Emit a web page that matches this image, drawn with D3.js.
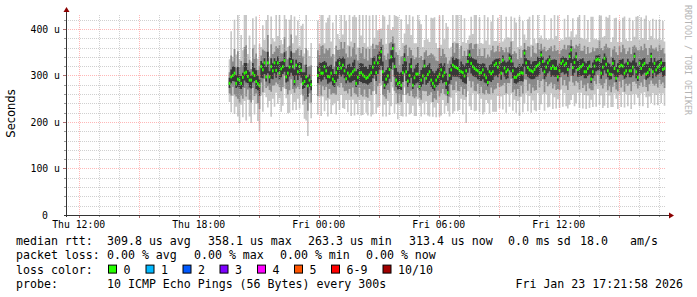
<!DOCTYPE html>
<html>
<head>
<meta charset="utf-8">
<script src="https://cdn.jsdelivr.net/npm/d3@7"></script>
<style>
  html, body { margin: 0; padding: 0; background: #fff; }
  svg { display: block; }
  text { font-family: "DejaVu Sans Mono", monospace; fill: #000; }
</style>
</head>
<body>
<svg id="chart" width="697" height="297"></svg>
<script>
// ---- data (round trip times in microseconds, one value per 5 minute step) ----
const graphStart = Date.UTC(2026, 0, 22, 11, 21, 58)
const graphEnd = Date.UTC(2026, 0, 23, 17, 21, 58)
const firstStep = Date.UTC(2026, 0, 22, 19, 35)   // end of first measured interval
const stepMs = 300000

const medianRtt = [
  283,297,300,305,283,292,290,283,296,305, 307,298,290,290,305,300,287,282,278,319,
  312,327,297,327,297,319,310,327,311,327, 305,314,319,332,297,305,318,330,319,287,
  322,308,319,311,283,287,297,278,290,280, null,null,null,300,312,305,305,319,310,298,
  297,305,292,287,306,315,326,316,322,310, 293,305,299,303,308,312,283,296,305,306,
  301,298,294,296,301,306,318,327,306,327, 338,351,308,279,292,299,313,340,358,319,
  290,282,285,279,306,334,308,288,300,319, 279,295,303,303,276,290,299,320,294,302,
  308,290,283,277,290,297,303,312,299,306, 283,263,300,312,322,319,317,315,310,308,
  306,299,310,330,344,326,319,315,312,310, 305,306,312,301,295,285,308,304,308,322,
  326,318,327,305,333,316,308,312,337,331, 310,296,296,301,303,306,305,348,327,317,
  312,310,308,313,319,322,326,344,330,308, 318,327,333,315,320,315,315,297,310,326,
  331,322,326,313,341,355,317,328,340,313, 316,319,323,308,308,315,320,292,308,320,
  333,335,333,305,318,337,324,310,303,302, 326,315,294,310,319,322,320,305,310,326,
  310,310,318,341,308,296,326,315,322,326, 303,306,313,341,308,326,312,318,322,327,
  313,315
]
// slowest ping, above the median
const spreadUp = [
  52,98,40,115,62,150,45,104,58,128, 132,48,96,40,118,66,140,54,90,42,
  96,50,122,136,44,108,70,46,120,58, 138,62,48,112,124,56,102,134,50,140,
  64,110,44,96,128,60,142,76,52,90, null,null,null,118,56,130,138,50,104,126,
  140,68,122,58,136,74,52,128,66,140, 124,60,146,70,118,130,142,64,126,80,
  136,72,148,66,128,58,112,54,138,70, 62,50,132,148,76,110,128,58,46,116,
  138,144,70,142,64,56,134,122,140,68, 148,74,66,134,142,120,62,56,136,76,
  64,134,140,148,80,62,126,54,132,72, 130,142,58,50,108,54,116,122,48,126,
  66,124,60,46,42,100,70,116,128,58, 120,64,56,134,80,140,58,112,126,52,
  48,106,44,130,40,62,118,70,44,96, 64,128,118,60,124,58,112,40,50,104,
  114,56,126,66,50,110,54,42,48,122, 62,50,46,108,58,116,70,132,64,52,
  46,100,56,118,42,40,106,54,48,112, 120,62,56,126,70,104,52,134,118,58,
  46,42,96,124,64,48,102,114,128,70, 56,108,130,62,98,50,104,122,68,48,
  114,64,100,42,118,132,50,110,58,96, 126,70,104,44,114,52,108,60,98,50,
  104,58
]
// fastest ping, below the median
const spreadDown = [
  40,76,44,88,50,80,92,46,86,60, 104,50,78,92,58,84,48,80,98,62,
  90,64,44,96,52,108,60,94,48,88, 54,92,84,60,46,86,98,70,94,44,
  96,58,90,52,46,80,94,108,50,72, null,null,null,84,58,92,50,96,64,86,
  48,88,56,46,90,70,100,58,92,82, 46,84,52,90,60,98,44,80,58,92,
  86,50,74,82,56,94,102,60,88,96, 104,72,96,42,80,54,98,106,84,100,
  52,76,48,66,94,60,96,48,84,100, 44,82,90,54,42,78,58,104,50,88,
  96,48,72,46,80,56,92,98,52,88, 48,40,88,60,104,96,54,92,84,58,
  90,52,112,64,110,100,58,92,88,50, 84,56,96,80,48,44,90,56,86,100,
  104,62,98,50,106,58,88,52,104,70, 86,48,76,56,90,52,84,108,66,94,
  56,90,62,88,96,60,100,106,70,84, 58,96,100,54,92,62,86,48,80,56,
  98,60,92,84,104,108,58,94,100,50, 86,56,94,50,80,58,90,44,76,60,
  100,64,96,48,88,102,60,80,46,70, 94,54,44,82,60,90,56,74,50,92,
  52,82,58,104,48,44,92,54,88,62, 50,76,58,100,46,90,54,82,60,86,
  52,80
]
// 2nd / 3rd slowest and fastest pings
const midUp = [
  24,46,30,52,34,60,28,48,26,56, 58,28,44,24,54,36,60,30,42,24,
  44,26,54,60,28,48,36,24,52,32, 60,34,28,50,56,30,46,58,30,62,
  32,50,24,44,58,36,62,40,30,42, null,null,null,54,32,58,60,28,48,56,
  62,36,54,32,58,40,30,56,36,62, 54,34,64,38,52,58,62,36,54,42,
  60,38,64,36,56,32,50,30,60,38, 34,28,58,64,42,48,56,32,26,50,
  60,62,38,62,36,30,58,54,60,36, 64,40,36,58,62,52,34,30,60,40,
  36,58,62,64,42,34,56,30,58,40, 56,62,32,28,48,30,52,54,26,56,
  36,54,32,26,24,44,38,52,56,32, 52,36,30,58,42,60,32,50,56,28,
  26,46,24,56,22,34,52,38,24,42, 36,56,52,34,54,32,50,22,28,46,
  50,30,56,36,28,48,30,24,26,54, 34,28,26,48,32,50,38,58,36,28,
  26,44,30,52,24,22,46,30,26,50, 52,34,30,56,38,46,28,58,52,32,
  26,24,42,54,36,26,44,50,56,38, 30,48,56,34,44,28,46,54,36,26,
  50,36,44,24,52,58,28,48,32,42, 56,38,46,24,50,30,48,34,44,28,
  46,32
]
const midDown = [
  22,40,24,46,28,42,48,26,46,32, 52,28,42,48,32,44,26,42,50,34,
  48,34,24,50,28,54,32,48,26,46, 30,48,44,32,26,46,50,38,48,24,
  50,32,48,28,26,42,48,54,28,38, null,null,null,44,32,48,28,50,34,46,
  26,46,30,26,48,38,52,32,48,44, 26,44,28,48,34,50,24,42,32,48,
  46,28,40,44,30,48,52,34,46,50, 54,40,50,24,42,30,50,54,46,52,
  28,42,26,36,48,32,50,26,44,52, 24,44,48,30,24,42,32,54,28,46,
  50,26,40,26,42,30,48,50,28,46, 26,22,46,32,54,50,30,48,44,32,
  48,28,56,34,56,52,32,48,46,28, 44,30,50,42,26,24,48,30,46,52,
  54,34,52,28,54,32,46,28,54,38, 46,26,40,30,48,28,44,56,36,50,
  30,48,34,46,50,32,52,56,38,44, 32,50,52,30,48,34,46,26,42,30,
  52,32,48,44,54,56,32,50,52,28, 46,30,50,28,42,32,48,24,40,32,
  52,34,50,26,46,54,32,42,26,38, 50,30,24,44,32,48,30,40,28,48,
  28,44,32,54,26,24,48,30,46,34, 28,40,32,52,26,48,30,44,32,46,
  28,42
]
// pings closest to the median
const coreUp = [
  12,16,20,14,18,26,12,16,10,22, 20,14,18,10,22,16,24,18,14,12,
  14,10,22,24,12,18,16,10,20,14, 24,16,12,18,22,14,20,22,16,26,
  12,18,10,16,24,20,26,18,12,10, null,null,null,20,16,22,24,12,18,22,
  24,18,22,16,24,20,14,20,18,26, 22,18,26,16,20,22,26,18,22,20,
  24,20,26,18,22,16,20,14,24,18, 14,10,22,28,20,18,22,14,10,20,
  26,26,20,28,18,14,22,22,26,18, 28,20,20,24,26,22,18,14,24,20,
  18,24,26,28,20,18,22,14,22,20, 22,26,16,12,18,14,20,20,10,22,
  18,22,16,12,10,14,18,20,22,16, 20,18,14,24,22,26,14,20,22,12,
  10,18,10,22,10,16,20,18,10,12, 18,22,20,18,22,14,20,8,10,16,
  20,14,22,18,12,18,12,8,10,20, 16,10,10,18,14,20,18,24,16,12,
  10,16,12,20,8,8,18,12,10,18, 20,16,14,22,18,16,12,24,20,14,
  10,8,12,22,18,10,16,18,22,18, 12,18,24,16,14,12,16,20,18,10,
  20,18,14,8,20,24,10,18,14,12, 22,18,16,8,20,12,18,14,12,10,
  16,14
]
const coreDown = [
  10,14,12,18,10,16,18,12,20,16, 22,14,16,18,20,12,16,14,22,24,
  18,24,10,22,14,26,18,22,16,20, 14,18,16,24,12,18,20,24,20,10,
  22,18,20,16,12,14,18,24,14,12, null,null,null,16,20,18,14,22,18,16,
  12,18,14,12,20,22,24,18,20,16, 10,16,14,18,20,22,8,16,18,20,
  18,14,12,16,18,20,24,26,18,24, 26,30,20,8,14,16,20,26,30,22,
  14,12,14,10,20,28,20,12,16,24, 8,16,20,18,8,14,18,24,14,18,
  20,14,12,10,14,18,20,22,16,20, 12,6,18,22,24,22,20,18,16,16,
  20,16,28,24,28,22,20,18,16,18, 16,18,20,16,12,8,20,18,18,24,
  26,22,24,14,26,18,16,18,26,24, 16,12,14,16,16,18,18,30,24,20,
  18,18,16,20,22,24,24,28,22,16, 20,22,24,18,20,18,18,10,14,20,
  24,20,22,16,26,28,18,22,26,16, 18,20,22,14,14,16,18,8,14,20,
  24,24,22,12,18,26,20,14,12,10, 22,18,8,14,18,20,20,12,14,22,
  14,14,18,26,14,8,22,16,20,20, 12,12,16,26,14,20,14,16,18,20,
  16,16
]

const yTickValues = [0, 100, 200, 300, 400]
const yTickLabels = ["0", "100 u", "200 u", "300 u", "400 u"]
const xTickTimes = [Date.UTC(2026,0,22,12), Date.UTC(2026,0,22,18), Date.UTC(2026,0,23,0), Date.UTC(2026,0,23,6), Date.UTC(2026,0,23,12)]
const xTickLabels = ["Thu 12:00", "Thu 18:00", "Fri 00:00", "Fri 06:00", "Fri 12:00"]

const rttStats = ["309.8 us avg", "358.1 us max", "263.3 us min", "313.4 us now", "0.0 ms sd", "18.0", "am/s"]
const lossStats = ["0.00 % avg", "0.00 % max", "0.00 % min", "0.00 % now"]
const lossLabels = ["0", "1", "2", "3", "4", "5", "6-9", "10/10"]
const lossColors = ["#26ff00", "#00b8ff", "#0059ff", "#7e00ff", "#ff00ff", "#ff5500", "#ff0000", "#a10000"]
const probeText = "10 ICMP Echo Pings (56 Bytes) every 300s"
const stampText = "Fri Jan 23 17:21:58 2026"

// ---- layout ----
const plotLeft = 66, plotRight = 666, plotTop = 15, plotBottom = 215

const svg = d3.select("#chart")

const x = d3.scaleUtc().domain([graphStart, graphEnd]).range([plotLeft, plotRight])
const y = d3.scaleLinear().domain([0, 430]).range([plotBottom, plotTop])

svg.append("clipPath").attr("id", "plot")
  .append("rect").attr("x", plotLeft).attr("y", plotTop).attr("width", plotRight - plotLeft).attr("height", plotBottom - plotTop)

const steps = medianRtt.map((m, i) => ({ i: i, m: m, t: firstStep + i * stepMs }))

function bandPoints(down, up){
  const pts = []
  steps.forEach(s => {
    const ok = s.m != null
    const lo = ok ? s.m - down[s.i] : 0
    const hi = ok ? s.m + up[s.i] : 0
    pts.push({ t: s.t - stepMs, lo, hi, ok })
    pts.push({ t: s.t, lo, hi, ok })
  })
  return pts
}

const band = d3.area()
  .defined(p => p.ok)
  .x(p => x(p.t))
  .y0(p => y(p.lo))
  .y1(p => y(p.hi))

const smoke = svg.append("g").attr("clip-path", "url(#plot)")

// smoke: outer spread light, inner darker
smoke.append("path").attr("d", band(bandPoints(spreadDown, spreadUp))).attr("fill", "#c8c8c8")
smoke.append("path").attr("d", band(bandPoints(midDown, midUp))).attr("fill", "#8a8a8a")
smoke.append("path").attr("d", band(bandPoints(coreDown, coreUp))).attr("fill", "#383838")

// median, coloured by loss (all 0 loss here)
smoke.selectAll("rect.med")
  .data(steps.filter(s => s.m != null))
  .enter().append("rect")
  .attr("class", "med")
  .attr("x", s => x(s.t - stepMs))
  .attr("width", s => x(s.t) - x(s.t - stepMs))
  .attr("y", s => y(s.m) - 1.5)
  .attr("height", 3)
  .attr("fill", lossColors[0])

// grid on top of data, like rrdtool
const grid = svg.append("g")
const hours = d3.utcHour.range(d3.utcHour.ceil(new Date(graphStart)), new Date(graphEnd))
hours.forEach(h => {
  const major = h.getUTCHours() % 3 == 0
  const gx = Math.round(x(h)) + 0.5
  grid.append("line")
    .attr("x1", gx).attr("x2", gx).attr("y1", plotTop).attr("y2", plotBottom)
    .attr("stroke", major ? "rgba(255,95,95,0.45)" : "rgba(170,170,170,0.55)")
    .attr("stroke-dasharray", "1,1")
  svg.append("line")
    .attr("x1", gx).attr("x2", gx).attr("y1", plotBottom).attr("y2", plotBottom + (major ? 3 : 2))
    .attr("stroke", major ? "#b07070" : "#999")
})
d3.range(20, 430, 20).forEach(v => {
  const major = v % 100 == 0
  const gy = Math.round(y(v)) + 0.5
  grid.append("line")
    .attr("x1", plotLeft).attr("x2", plotRight).attr("y1", gy).attr("y2", gy)
    .attr("stroke", major ? "rgba(255,95,95,0.45)" : "rgba(170,170,170,0.55)")
    .attr("stroke-dasharray", "1,1")
  svg.append("line")
    .attr("x1", plotLeft - (major ? 3 : 2)).attr("x2", plotLeft).attr("y1", gy).attr("y2", gy)
    .attr("stroke", major ? "#b07070" : "#999")
})

// axes with arrows
svg.append("line").attr("x1", plotLeft + 0.5).attr("x2", plotLeft + 0.5).attr("y1", plotBottom + 2).attr("y2", 11)
  .attr("stroke", "#333")
svg.append("line").attr("x1", plotLeft - 2).attr("x2", 670).attr("y1", plotBottom + 0.5).attr("y2", plotBottom + 0.5)
  .attr("stroke", "#333")
svg.append("path").attr("d", `M${plotLeft - 2.5},12 L${plotLeft + 3.5},12 L${plotLeft + 0.5},7 Z`).attr("fill", "#8b0000")
svg.append("path").attr("d", `M669,${plotBottom - 2.5} L669,${plotBottom + 3.5} L674,${plotBottom + 0.5} Z`).attr("fill", "#8b0000")

// tick labels
svg.selectAll("text.ylab")
  .data(yTickValues)
  .enter().append("text")
  .attr("class", "ylab")
  .attr("x", (d, i) => i == 0 ? 48 : 60)
  .attr("y", d => y(d) + 3.6)
  .attr("text-anchor", "end")
  .style("font-size", "9.8px")
  .text((d, i) => yTickLabels[i])

svg.selectAll("text.xlab")
  .data(xTickTimes)
  .enter().append("text")
  .attr("class", "xlab")
  .attr("x", d => x(d))
  .attr("y", 227.6)
  .attr("text-anchor", "middle")
  .style("font-size", "9.8px")
  .text((d, i) => xTickLabels[i])

svg.append("text")
  .attr("transform", "translate(15.2,113.5) rotate(-90)")
  .attr("text-anchor", "middle")
  .style("font-family", "'DejaVu Sans', sans-serif")
  .style("font-size", "11.5px")
  .text("Seconds")

svg.append("text")
  .attr("transform", "translate(684.5,5) rotate(90)")
  .style("font-size", "8.3px")
  .style("fill", "#b4b4b4")
  .text("RRDTOOL / TOBI OETIKER")

// legend
const rows = [245, 259.3, 273.6, 287.9]
const legend = svg.append("g").style("font-size", "11.6px")

legend.append("text").attr("x", 16).attr("y", rows[0]).text("median rtt:")
const rttX = [107, 208, 308, 409, 508, 580, 630]
rttStats.forEach((s, i) => legend.append("text").attr("x", rttX[i]).attr("y", rows[0]).text(s))

legend.append("text").attr("x", 16).attr("y", rows[1]).text("packet loss:")
const lossX = [107, 194, 280, 366]
lossStats.forEach((s, i) => legend.append("text").attr("x", lossX[i]).attr("y", rows[1]).text(s))

legend.append("text").attr("x", 16).attr("y", rows[2]).text("loss color:")
const boxX = [108.5, 146, 183, 220, 257.5, 294.5, 331.5, 383]
lossLabels.forEach((s, i) => {
  legend.append("rect")
    .attr("x", boxX[i]).attr("y", rows[2] - 8.5).attr("width", 8).attr("height", 8)
    .attr("fill", lossColors[i]).attr("stroke", "#000").attr("stroke-width", 1)
  legend.append("text").attr("x", boxX[i] + 15).attr("y", rows[2]).text(s)
})

legend.append("text").attr("x", 16).attr("y", rows[3]).text("probe:")
legend.append("text").attr("x", 107).attr("y", rows[3]).text(probeText)
legend.append("text").attr("x", 683).attr("y", rows[3]).attr("text-anchor", "end").text(stampText)
</script>
</body>
</html>
